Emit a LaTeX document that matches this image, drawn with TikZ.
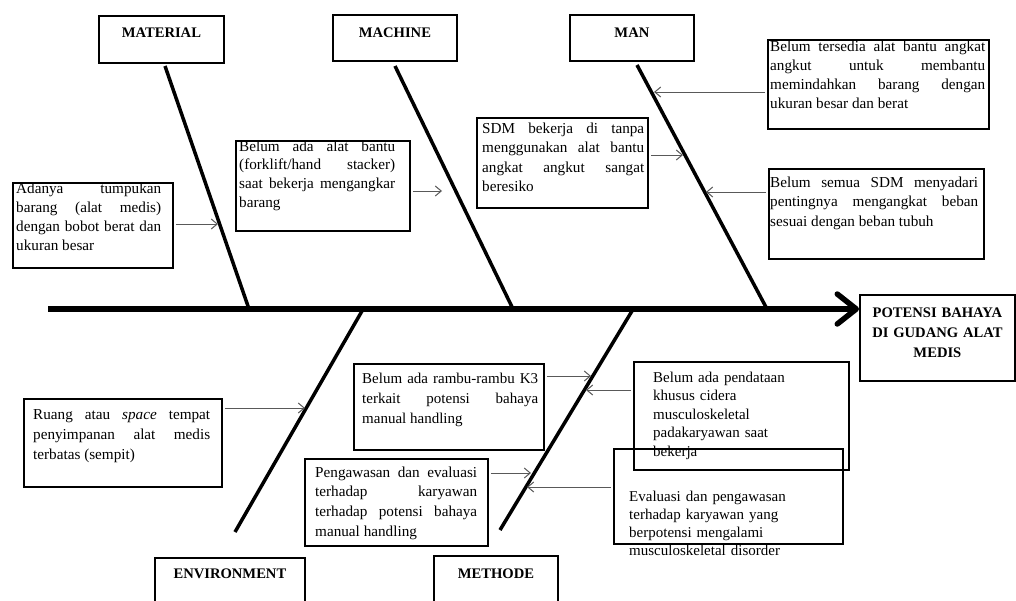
\documentclass[tikz,border=0pt]{standalone}
\usepackage{fontspec}
\setmainfont{Liberation Serif}
\usetikzlibrary{arrows.meta,calc}
\hyphenpenalty=10000
\exhyphenpenalty=10000
\tolerance=10000
\begin{document}
\begin{tikzpicture}[x=1pt,y=-1pt,
  cbox/.style={draw, line width=1.8pt, rectangle, inner sep=0pt, anchor=north west},
  txt/.style={inner sep=0pt, anchor=base west, align=justify, font=\fontsize{15.2}{#1}\selectfont},
  txt/.default=19,
  rtxt/.style={inner sep=0pt, anchor=base west, align=left, text width=215pt, font=\fontsize{15}{#1}\selectfont},
  hdr/.style={inner sep=0pt, anchor=base, font=\fontsize{14.6}{20}\selectfont\bfseries},
  bone/.style={line width=3.5pt},
  spine/.style={line width=5.5pt, -{Straight Barb[length=19pt,width=30pt,round]}},
  arr/.style={line width=1pt, draw=black!65, -{Straight Barb[length=6pt,width=10pt]}, shorten <=2pt},
]
\useasboundingbox (0,0) rectangle (1016,600);
\clip (0,0) rectangle (1016,600);

% ---- category boxes ----
\node[cbox, minimum width=125pt, minimum height=47pt] (mat) at (98,15) {};
\node[hdr] (matL) at ([yshift=-22pt]mat.north) {MATERIAL};
\node[cbox, minimum width=124pt, minimum height=46pt] (mac) at (332,14) {};
\node[hdr] (macL) at ([yshift=-23pt]mac.north) {MACHINE};
\node[cbox, minimum width=124pt, minimum height=46pt] (man) at (569,14) {};
\node[hdr] (manL) at ([yshift=-23pt]man.north) {MAN};
\node[cbox, minimum width=150pt, minimum height=60pt] (env) at (154,557) {};
\node[hdr] (envL) at ([yshift=-21pt]env.north) {ENVIRONMENT};
\node[cbox, minimum width=124pt, minimum height=60pt] (met) at (433,555) {};
\node[hdr] (metL) at ([yshift=-23pt]met.north) {METHODE};
\node[cbox, minimum width=155pt, minimum height=86pt] (eff) at (859,294) {};
\node[hdr, text width=150pt, align=center] (effL) at ([yshift=-23pt]eff.north) {POTENSI BAHAYA\\ DI GUDANG ALAT\\ MEDIS};

% ---- spine and bones ----
\coordinate (tail) at (48,309);
\draw[spine] (tail) -- (tail -| eff.west);
\coordinate (matT) at (165,66);  \coordinate (matS) at (249,309);
\coordinate (macT) at (395,66);  \coordinate (macS) at (513,309);
\coordinate (manT) at (637,65);  \coordinate (manS) at (767,309);
\coordinate (envS) at (362,311); \coordinate (envT) at (235,532);
\coordinate (metS) at (632,311); \coordinate (metT) at (500,530);
\draw[bone] (matT) -- (matS);
\draw[bone] (macT) -- (macS);
\draw[bone] (manT) -- (manS);
\draw[bone] (envS) -- (envT);
\draw[bone] (metS) -- (metT);

% ---- cause boxes ----
\node[cbox, minimum width=160pt, minimum height=85pt] (c1) at (12,182) {};
\node[txt=19, text width=145pt] (c1t) at (16,193) {Adanya tumpukan\linebreak barang (alat medis)\linebreak dengan bobot berat dan\linebreak ukuran besar};

\node[cbox, minimum width=174pt, minimum height=90pt] (c2) at (235,140) {};
\node[txt=18.7, text width=156pt] (c2t) at (239,151) {Belum ada alat bantu\linebreak (forklift/hand stacker)\linebreak saat bekerja mengangkar\linebreak barang};

\node[cbox, minimum width=171pt, minimum height=90pt] (c3) at (476,117) {};
\node[txt=19.5, text width=162pt] (c3t) at (482,133) {SDM bekerja di tanpa\linebreak menggunakan alat bantu\linebreak angkat angkut sangat\linebreak beresiko};

\node[cbox, minimum width=221pt, minimum height=89pt] (c4) at (767,39) {};
\node[txt=19, text width=215pt] (c4t) at (770,51) {Belum tersedia alat bantu angkat\linebreak angkut untuk membantu\linebreak memindahkan barang dengan\linebreak ukuran besar dan berat};

\node[cbox, minimum width=215pt, minimum height=90pt] (c5) at (768,168) {};
\node[txt=19.5, text width=208pt] (c5t) at (770,187) {Belum semua SDM menyadari\linebreak pentingnya mengangkat beban\linebreak sesuai dengan beban tubuh};

\node[cbox, minimum width=190pt, minimum height=86pt] (c6) at (353,363) {};
\node[txt=20, text width=176pt, font=\fontsize{15}{20}\selectfont] (c6t) at (362,383) {Belum ada rambu-rambu K3\linebreak terkait potensi bahaya\linebreak manual handling};

\node[cbox, minimum width=183pt, minimum height=87pt] (c7) at (304,458) {};
\node[txt=19.7, text width=162pt] (c7t) at (315,477) {Pengawasan dan evaluasi\linebreak terhadap karyawan\linebreak terhadap potensi bahaya\linebreak manual handling};

\node[cbox, minimum width=198pt, minimum height=88pt] (c8) at (23,398) {};
\node[txt=20, text width=177pt] (c8t) at (33,419) {Ruang atau \textit{space} tempat\linebreak penyimpanan alat medis\linebreak terbatas (sempit)};

\node[cbox, minimum width=215pt, minimum height=108pt] (c9) at (633,361) {};
\node[rtxt=18.5] (c9t) at (653,382) {Belum ada pendataan\\ khusus cidera\\ musculoskeletal\\ padakaryawan saat\\ bekerja};

\node[cbox, minimum width=229pt, minimum height=95pt] (c10) at (613,448) {};
\node[rtxt=18.3] (c10t) at (629,501) {Evaluasi dan pengawasan\\ terhadap karyawan yang\\ berpotensi mengalami\\ musculoskeletal disorder};

% ---- cause arrows ----
\coordinate (t1) at (218,224);  \draw[arr] (c1.east |- t1) -- (t1);
\coordinate (t2) at (442,191);  \draw[arr] (c2.east |- t2) -- (t2);
\coordinate (t3) at (683,155);  \draw[arr] (c3.east |- t3) -- (t3);
\coordinate (t4) at (654,92);   \draw[arr] (c4.west |- t4) -- (t4);
\coordinate (t5) at (706,192);  \draw[arr] (c5.west |- t5) -- (t5);
\coordinate (t6) at (591,376);  \draw[arr] (c6.east |- t6) -- (t6);
\coordinate (t7) at (531,473);  \draw[arr] (c7.east |- t7) -- (t7);
\coordinate (t8) at (305,408);  \draw[arr] (c8.east |- t8) -- (t8);
\coordinate (t9) at (586,390);  \draw[arr] (c9.west |- t9) -- (t9);
\coordinate (t10) at (527,487); \draw[arr] (c10.west |- t10) -- (t10);
\end{tikzpicture}
\end{document}
